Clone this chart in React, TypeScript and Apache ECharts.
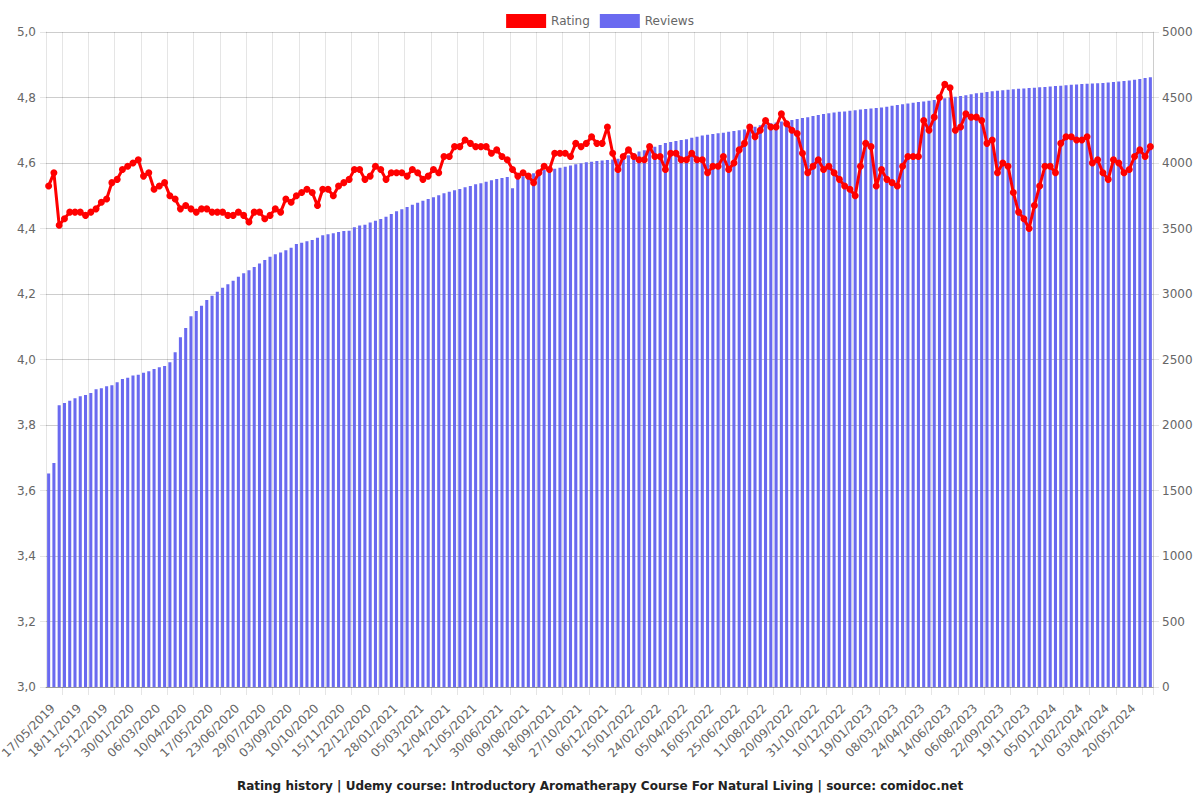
import React, { useEffect, useRef } from "react";
import * as echarts from "echarts";

// Dates shown on the x axis (every 5th category)
const labelDates = [
  "17/05/2019", "18/11/2019", "25/12/2019", "30/01/2020", "06/03/2020", "10/04/2020",
  "17/05/2020", "23/06/2020", "29/07/2020", "03/09/2020", "10/10/2020", "15/11/2020",
  "22/12/2020", "28/01/2021", "05/03/2021", "12/04/2021", "21/05/2021", "30/06/2021",
  "09/08/2021", "18/09/2021", "27/10/2021", "06/12/2021", "15/01/2022", "24/02/2022",
  "05/04/2022", "16/05/2022", "25/06/2022", "11/08/2022", "20/09/2022", "31/10/2022",
  "10/12/2022", "19/01/2023", "08/03/2023", "24/04/2023", "14/06/2023", "06/08/2023",
  "22/09/2023", "19/11/2023", "05/01/2024", "21/02/2024", "03/04/2024", "20/05/2024",
];

const rating = [
  4.53, 4.57, 4.41, 4.43, 4.45, 4.45, 4.45, 4.44, 4.45, 4.46,
  4.48, 4.49, 4.54, 4.55, 4.58, 4.59, 4.60, 4.61, 4.56, 4.57,
  4.52, 4.53, 4.54, 4.50, 4.49, 4.46, 4.47, 4.46, 4.45, 4.46,
  4.46, 4.45, 4.45, 4.45, 4.44, 4.44, 4.45, 4.44, 4.42, 4.45,
  4.45, 4.43, 4.44, 4.46, 4.45, 4.49, 4.48, 4.50, 4.51, 4.52,
  4.51, 4.47, 4.52, 4.52, 4.50, 4.53, 4.54, 4.55, 4.58, 4.58,
  4.55, 4.56, 4.59, 4.58, 4.55, 4.57, 4.57, 4.57, 4.56, 4.58,
  4.57, 4.55, 4.56, 4.58, 4.57, 4.62, 4.62, 4.65, 4.65, 4.67,
  4.66, 4.65, 4.65, 4.65, 4.63, 4.64, 4.62, 4.61, 4.58, 4.56,
  4.57, 4.56, 4.54, 4.57, 4.59, 4.58, 4.63, 4.63, 4.63, 4.62,
  4.66, 4.65, 4.66, 4.68, 4.66, 4.66, 4.71, 4.63, 4.58, 4.62,
  4.64, 4.62, 4.61, 4.61, 4.65, 4.62, 4.62, 4.58, 4.63, 4.63,
  4.61, 4.61, 4.63, 4.61, 4.61, 4.57, 4.59, 4.59, 4.62, 4.58,
  4.60, 4.64, 4.66, 4.71, 4.68, 4.70, 4.73, 4.71, 4.71, 4.75,
  4.72, 4.70, 4.69, 4.63, 4.57, 4.59, 4.61, 4.58, 4.59, 4.57,
  4.55, 4.53, 4.52, 4.50, 4.59, 4.66, 4.65, 4.53, 4.58, 4.55,
  4.54, 4.53, 4.59, 4.62, 4.62, 4.62, 4.73, 4.70, 4.74, 4.80,
  4.84, 4.83, 4.70, 4.71, 4.75, 4.74, 4.74, 4.73, 4.66, 4.67,
  4.57, 4.60, 4.59, 4.51, 4.45, 4.43, 4.40, 4.47, 4.53, 4.59,
  4.59, 4.57, 4.66, 4.68, 4.68, 4.67, 4.67, 4.68, 4.60, 4.61,
  4.57, 4.55, 4.61, 4.60, 4.57, 4.58, 4.62, 4.64, 4.62, 4.65,
];

const reviews = [
  1630, 1710, 2150, 2168, 2186, 2204, 2219, 2229, 2244, 2272,
  2280, 2296, 2303, 2326, 2351, 2361, 2377, 2384, 2399, 2410,
  2428, 2441, 2451, 2479, 2555, 2670, 2741, 2830, 2870, 2911,
  2954, 2987, 3018, 3048, 3074, 3102, 3132, 3158, 3181, 3206,
  3232, 3260, 3285, 3304, 3316, 3334, 3354, 3382, 3392, 3402,
  3412, 3430, 3448, 3456, 3464, 3474, 3481, 3483, 3509, 3522,
  3529, 3545, 3560, 3573, 3590, 3611, 3631, 3647, 3664, 3682,
  3697, 3712, 3725, 3738, 3754, 3769, 3781, 3792, 3802, 3815,
  3825, 3838, 3845, 3857, 3868, 3878, 3886, 3893, 3807, 3896,
  3898, 3909, 3921, 3934, 3947, 3952, 3957, 3964, 3972, 3980,
  3990, 3998, 4005, 4010, 4015, 4019, 4023, 4027, 4032, 4045,
  4060, 4075, 4087, 4098, 4110, 4125, 4138, 4152, 4160, 4168,
  4175, 4181, 4192, 4200, 4210, 4216, 4222, 4227, 4231, 4238,
  4245, 4250, 4256, 4266, 4276, 4288, 4296, 4303, 4310, 4316,
  4322, 4328, 4336, 4344, 4350, 4358, 4367, 4374, 4380, 4386,
  4391, 4394, 4398, 4403, 4408, 4412, 4416, 4420, 4424, 4430,
  4437, 4443, 4449, 4454, 4460, 4465, 4470, 4475, 4481, 4488,
  4495, 4500, 4506, 4512, 4518, 4525, 4532, 4537, 4542, 4547,
  4552, 4556, 4560, 4563, 4566, 4569, 4572, 4575, 4578, 4581,
  4584, 4587, 4590, 4594, 4597, 4600, 4603, 4605, 4607, 4609,
  4611, 4614, 4618, 4622, 4626, 4630, 4636, 4642, 4648, 4654,
];

const TITLE =
  "Rating history | Udemy course: Introductory Aromatherapy Course For Natural Living | source: comidoc.net";

function parseDate(s: string): number {
  const [d, m, y] = s.split("/").map(Number);
  return Date.UTC(y, m - 1, d);
}
function fmtDate(t: number): string {
  const d = new Date(t);
  const p = (n: number) => String(n).padStart(2, "0");
  return `${p(d.getUTCDate())}/${p(d.getUTCMonth() + 1)}/${d.getUTCFullYear()}`;
}

// Category list: the labelled dates, with the unlabelled in-between dates filled in
function buildCategories(n: number): string[] {
  const out: string[] = [];
  for (let k = 0; k < labelDates.length; k++) {
    const d0 = parseDate(labelDates[k]);
    const d1 =
      k < labelDates.length - 1
        ? parseDate(labelDates[k + 1])
        : d0 + (d0 - parseDate(labelDates[k - 1]));
    for (let j = 0; j < 5; j++) {
      if (out.length >= n) break;
      out.push(j === 0 ? labelDates[k] : fmtDate(d0 + Math.round(((d1 - d0) * j) / 5 / 86400000) * 86400000));
    }
  }
  return out;
}

const categories = buildCategories(rating.length);

const FONT = "DejaVu Sans";
const GRID = "rgba(0,0,0,0.1)";

export default function App() {
  const ref = useRef<HTMLDivElement>(null);
  useEffect(() => {
    if (!ref.current) return;
    const chart = echarts.init(ref.current, null, { renderer: "svg" });
    chart.setOption({
      animation: false,
      textStyle: { fontFamily: FONT },
      title: {
        text: TITLE,
        left: "center",
        top: 775,
        textStyle: { fontSize: 12, fontWeight: "bold", color: "#222", fontFamily: FONT },
      },
      legend: {
        top: 9,
        left: "center",
        itemWidth: 40,
        itemHeight: 14,
        itemGap: 10,
        icon: "rect",
        textStyle: { fontSize: 12, color: "#666", fontFamily: FONT },
        data: ["Rating", "Reviews"],
      },
      grid: {
        left: 46,
        right: 47,
        top: 32,
        bottom: 113,
        containLabel: false,
        outerBoundsMode: "none",
      },
      xAxis: {
        type: "category",
        data: categories,
        boundaryGap: true,
        axisLine: { show: true, lineStyle: { color: "rgba(0,0,0,0.25)" } },
        axisTick: {
          show: true,
          length: 8,
          interval: (i: number) => i % 5 === 3,
          lineStyle: { color: GRID },
        },
        splitLine: {
          show: true,
          interval: (i: number) => i % 5 === 3,
          lineStyle: { color: GRID },
        },
        axisLabel: {
          interval: 4,
          rotate: 45,
          margin: 15,
          verticalAlign: "top",
          fontSize: 12,
          color: "#666",
          fontFamily: FONT,
        },
      },
      yAxis: [
        {
          type: "value",
          min: 3,
          max: 5,
          interval: 0.2,
          position: "left",
          axisLine: { show: true, lineStyle: { color: GRID } },
          axisTick: { show: true, length: 6, lineStyle: { color: GRID } },
          splitLine: { show: true, lineStyle: { color: GRID } },
          axisLabel: {
            fontSize: 12,
            color: "#666",
            margin: 10,
            fontFamily: FONT,
            formatter: (v: number) => v.toFixed(1).replace(".", ","),
          },
        },
        {
          type: "value",
          min: 0,
          max: 5000,
          interval: 500,
          position: "right",
          axisLine: { show: true, lineStyle: { color: GRID } },
          axisTick: { show: true, length: 6, lineStyle: { color: GRID } },
          splitLine: { show: true, lineStyle: { color: GRID } },
          axisLabel: {
            fontSize: 12,
            color: "#666",
            margin: 9,
            fontFamily: FONT,
            formatter: (v: number) => String(Math.round(v)),
          },
        },
      ],
      series: [
        {
          name: "Rating",
          type: "line",
          yAxisIndex: 0,
          data: rating,
          z: 5,
          symbol: "circle",
          symbolSize: 7,
          showSymbol: true,
          showAllSymbol: true,
          lineStyle: { color: "#ff0000", width: 3 },
          itemStyle: { color: "#ff0000" },
        },
        {
          name: "Reviews",
          type: "bar",
          yAxisIndex: 1,
          data: reviews,
          z: 2,
          barCategoryGap: "42%",
          itemStyle: { color: "#6a6af0" },
        },
      ],
    });
    return () => chart.dispose();
  }, []);
  return (
    <div
      ref={ref}
      style={{ position: "fixed", left: 0, top: 0, width: 1200, height: 800, background: "#fff" }}
    />
  );
}
